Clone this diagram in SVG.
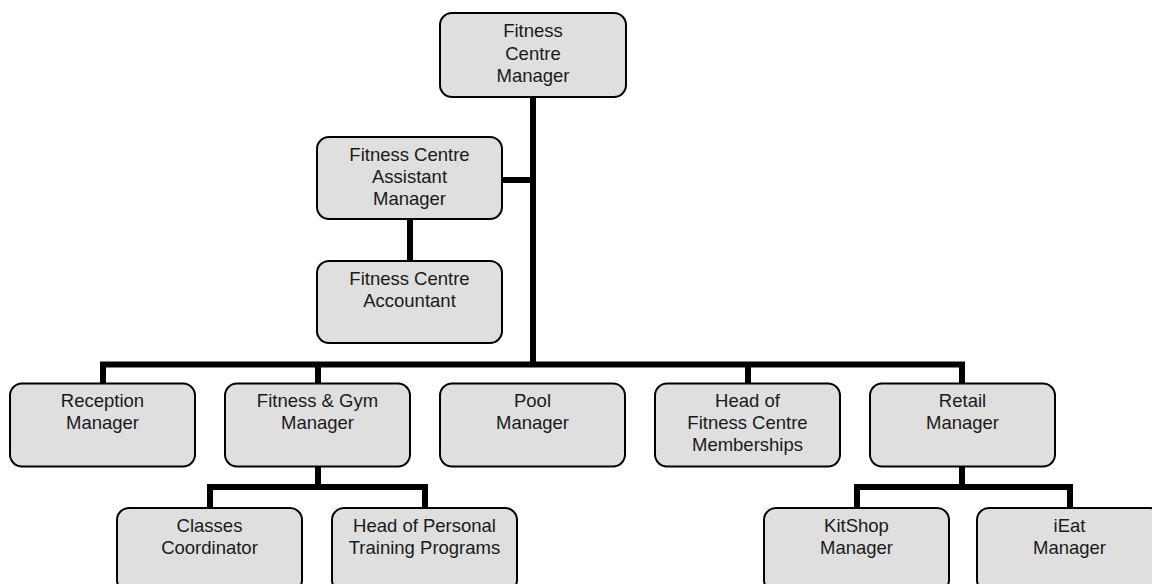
<svg xmlns="http://www.w3.org/2000/svg" width="1152" height="584" viewBox="0 0 1152 584">
<style>
.box{fill:#dfdfdf;stroke:#000;stroke-width:2}
.t{font-family:"Liberation Sans",Arial,sans-serif;font-size:18.5px;fill:#1a1a1a;text-anchor:middle}
.c{stroke:#000;stroke-width:6;fill:none;stroke-linecap:butt}
</style>
<rect width="1152" height="584" fill="#fff"/>
<g id="connectors">
<path class="c" d="M533 97V367"/>
<path class="c" d="M502 180H533"/>
<path class="c" d="M410 219V262"/>
<path class="c" d="M103 384V364.5H962V384"/>
<path class="c" d="M318 364.5V384"/>
<path class="c" d="M748 364.5V384"/>
<path class="c" d="M318 467V487"/>
<path class="c" d="M210 508V487H425V508"/>
<path class="c" d="M962 467V487"/>
<path class="c" d="M857 508V487H1070V508"/>
</g>
<g id="n-fcm"><rect class="box" x="440" y="13" width="186" height="84" rx="12"/><text class="t" x="533" y="37">Fitness</text><text class="t" x="533" y="59.5">Centre</text><text class="t" x="533" y="82">Manager</text></g>
<g id="n-asst"><rect class="box" x="317" y="137" width="185" height="82" rx="12"/><text class="t" x="409.5" y="161">Fitness Centre</text><text class="t" x="409.5" y="183">Assistant</text><text class="t" x="409.5" y="205">Manager</text></g>
<g id="n-acct"><rect class="box" x="317" y="261" width="185" height="82" rx="12"/><text class="t" x="409.5" y="285">Fitness Centre</text><text class="t" x="409.5" y="307">Accountant</text></g>
<g id="n-recep"><rect class="box" x="10" y="383.5" width="185" height="83" rx="12"/><text class="t" x="102.5" y="407">Reception</text><text class="t" x="102.5" y="429">Manager</text></g>
<g id="n-gym"><rect class="box" x="225" y="383.5" width="185" height="83" rx="12"/><text class="t" x="317.5" y="407">Fitness &amp; Gym</text><text class="t" x="317.5" y="429">Manager</text></g>
<g id="n-pool"><rect class="box" x="440" y="383.5" width="185" height="83" rx="12"/><text class="t" x="532.5" y="407">Pool</text><text class="t" x="532.5" y="429">Manager</text></g>
<g id="n-memb"><rect class="box" x="655" y="383.5" width="185" height="83" rx="12"/><text class="t" x="747.5" y="407">Head of</text><text class="t" x="747.5" y="429">Fitness Centre</text><text class="t" x="747.5" y="451">Memberships</text></g>
<g id="n-retail"><rect class="box" x="870" y="383.5" width="185" height="83" rx="12"/><text class="t" x="962.5" y="407">Retail</text><text class="t" x="962.5" y="429">Manager</text></g>
<g id="n-classes"><rect class="box" x="117" y="508" width="185" height="84" rx="12"/><text class="t" x="209.5" y="531.5">Classes</text><text class="t" x="209.5" y="553.5">Coordinator</text></g>
<g id="n-pt"><rect class="box" x="332" y="508" width="185" height="84" rx="12"/><text class="t" x="424.5" y="531.5">Head of Personal</text><text class="t" x="424.5" y="553.5">Training Programs</text></g>
<g id="n-kit"><rect class="box" x="764" y="508" width="185" height="84" rx="12"/><text class="t" x="856.5" y="531.5">KitShop</text><text class="t" x="856.5" y="553.5">Manager</text></g>
<g id="n-ieat"><rect class="box" x="977" y="508" width="185" height="84" rx="12"/><text class="t" x="1069.5" y="531.5">iEat</text><text class="t" x="1069.5" y="553.5">Manager</text></g>
</svg>
